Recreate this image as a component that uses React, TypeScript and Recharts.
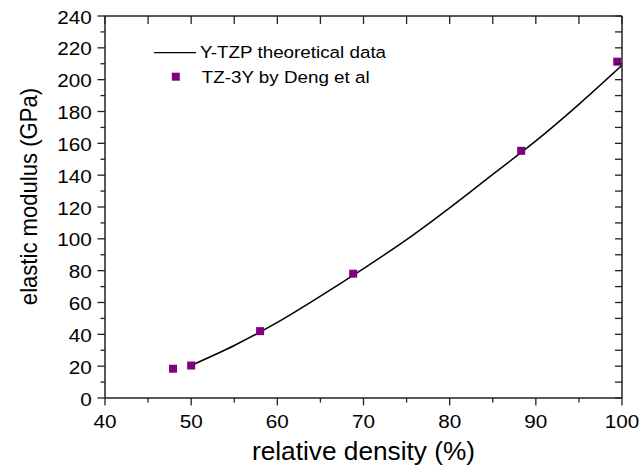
import React from 'react';
import { ComposedChart, Line, Scatter, XAxis, YAxis, Legend } from 'recharts';

const lineDensity = [50, 55, 60, 65, 70, 75, 80, 85, 90, 95, 100];
const lineModulus = [20.5, 33, 47.5, 64, 81.3, 99.5, 119.5, 140.5, 161.5, 184.5, 209];

const pointDensity = [47.9, 50.0, 58.0, 68.8, 88.3, 99.45];
const pointModulus = [18.4, 20.4, 42.0, 78.1, 155.3, 211.3];

const xTicks = [40, 45, 50, 55, 60, 65, 70, 75, 80, 85, 90, 95, 100];
const yTicks = [0, 10, 20, 30, 40, 50, 60, 70, 80, 90, 100, 110, 120, 130, 140, 150, 160, 170, 180, 190, 200, 210, 220, 230, 240];

const lineName = 'Y-TZP theoretical data';
const pointName = 'TZ-3Y by Deng et al';
const xTitle = 'relative density (%)';
const yTitle = 'elastic modulus (GPa)';

const lineData = lineDensity.map((x, i) => ({ x, y: lineModulus[i] }));
const pointData = pointDensity.map((x, i) => ({ x, y: pointModulus[i] }));

const FONT = '"Liberation Sans", Arial, sans-serif';
const AXIS = '#222';
const PURPLE = '#800080';

const BottomTick = (p: any) => {
  const { x, y, payload } = p;
  const v = payload.value;
  const major = v % 10 === 0;
  return (
    <g>
      <line x1={x} x2={x} y1={y} y2={y + (major ? 7.5 : 4.5)} stroke={AXIS} strokeWidth={1.3} />
      {major && (
        <text transform={`translate(${x},${y + 29.5}) scale(1.15,1)`} textAnchor="middle" fontSize={18} fontFamily={FONT} fill="#000">
          {v}
        </text>
      )}
    </g>
  );
};

const LeftTick = (p: any) => {
  const { x, y, payload } = p;
  const v = payload.value;
  const major = v % 20 === 0;
  return (
    <g>
      <line x1={x} x2={x - (major ? 7.5 : 4.5)} y1={y} y2={y} stroke={AXIS} strokeWidth={1.3} />
      {major && (
        <text transform={`translate(${x - 13.3},${y + 7.5}) scale(1.15,1)`} textAnchor="end" fontSize={18} fontFamily={FONT} fill="#000">
          {v}
        </text>
      )}
    </g>
  );
};

const TopTick = (p: any) => {
  const { x, y } = p;
  return <line x1={x} x2={x} y1={y} y2={y + 8} stroke={AXIS} strokeWidth={1.3} />;
};

const RightTick = (p: any) => {
  const { x, y } = p;
  return <line x1={x} x2={x - 7} y1={y} y2={y} stroke={AXIS} strokeWidth={1.3} />;
};

const XTitle = (p: any) => {
  const vb = p.viewBox || { x: 105, y: 398, width: 517, height: 70 };
  return (
    <text transform={`translate(${vb.x + vb.width / 2},${vb.y + 61.5}) scale(1.05,1)`} textAnchor="middle" fontSize={25} fontFamily={FONT} fill="#000">
      {xTitle}
    </text>
  );
};

const YTitle = (p: any) => {
  const vb = p.viewBox || { x: 0, y: 16, width: 105, height: 382 };
  return (
    <text transform={`translate(${vb.x + 36.5},${vb.y + vb.height / 2 - 10.5}) scale(1.12,1) rotate(-90)`} textAnchor="middle" fontSize={22.1} fontFamily={FONT} fill="#000">
      {yTitle}
    </text>
  );
};

const LegendBox = () => (
  <svg width={260} height={50} style={{ overflow: 'visible', display: 'block' }}>
    <line x1={4} x2={46} y1={12.7} y2={12.7} stroke="#000" strokeWidth={1.3} />
    <text transform="translate(50,18.3) scale(1.14,1)" fontSize={16.5} fontFamily={FONT} fill="#000">{lineName}</text>
    <rect x={21.8} y={32.7} width={8} height={8} fill={PURPLE} />
    <text transform="translate(51.7,42.7) scale(1.14,1)" fontSize={16.5} fontFamily={FONT} fill="#000">{pointName}</text>
  </svg>
);

const SquareShape = (p: any) => {
  const { cx, cy } = p;
  return <rect x={cx - 4} y={cy - 4} width={8} height={8} fill={PURPLE} />;
};

export default function App() {
  return (
    <div style={{ position: 'absolute', left: 0, top: 0, width: 640, height: 468, background: '#fff' }}>
      <ComposedChart width={640} height={468} margin={{ top: 0, right: 0, bottom: 0, left: 0 }}>
        <XAxis
          xAxisId="b"
          type="number"
          dataKey="x"
          domain={[40, 100]}
          ticks={xTicks}
          interval={0}
          allowDataOverflow
          orientation="bottom"
          height={70}
          tickSize={0}
          tickMargin={0}
          tickLine={false}
          axisLine={{ stroke: AXIS, strokeWidth: 1.5 }}
          tick={(p: any) => <BottomTick {...p} />}
          label={{ content: (p: any) => <XTitle {...p} /> }}
        />
        <XAxis
          xAxisId="t"
          type="number"
          dataKey="x"
          domain={[40, 100]}
          ticks={xTicks}
          interval={0}
          allowDataOverflow
          orientation="top"
          height={16}
          tickSize={0}
          tickMargin={0}
          tickLine={false}
          axisLine={{ stroke: AXIS, strokeWidth: 1.5 }}
          tick={(p: any) => <TopTick {...p} />}
        />
        <YAxis
          yAxisId="l"
          type="number"
          domain={[0, 240]}
          ticks={yTicks}
          interval={0}
          allowDataOverflow
          orientation="left"
          width={105}
          tickSize={0}
          tickMargin={0}
          tickLine={false}
          axisLine={{ stroke: AXIS, strokeWidth: 1.5 }}
          tick={(p: any) => <LeftTick {...p} />}
          label={{ content: (p: any) => <YTitle {...p} /> }}
        />
        <YAxis
          yAxisId="r"
          type="number"
          domain={[0, 240]}
          ticks={yTicks}
          interval={0}
          allowDataOverflow
          orientation="right"
          width={18}
          tickSize={0}
          tickMargin={0}
          tickLine={false}
          axisLine={{ stroke: AXIS, strokeWidth: 1.5 }}
          tick={(p: any) => <RightTick {...p} />}
        />
        <Legend
          layout="horizontal"
          verticalAlign="middle"
          align="center"
          content={() => <LegendBox />}
          wrapperStyle={{ left: 150, top: 40, width: 260, height: 50 }}
        />
        <Line
          xAxisId="b"
          yAxisId="l"
          data={lineData}
          dataKey="y"
          name={lineName}
          type="monotone"
          stroke="#000"
          strokeWidth={1.5}
          dot={false}
          isAnimationActive={false}
        />
        <Scatter
          xAxisId="b"
          yAxisId="l"
          data={pointData}
          dataKey="y"
          name={pointName}
          fill={PURPLE}
          shape={(p: any) => <SquareShape {...p} />}
          isAnimationActive={false}
        />
      </ComposedChart>
    </div>
  );
}
